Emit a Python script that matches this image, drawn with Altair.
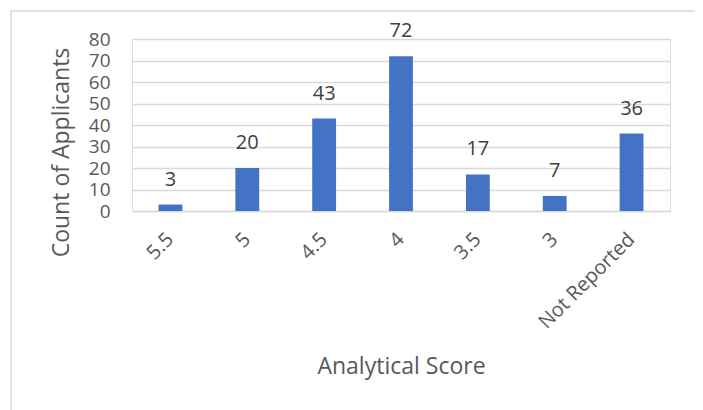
import altair as alt
import pandas as pd

scores = ["5.5", "5", "4.5", "4", "3.5", "3", "Not Reported"]
counts = [3, 20, 43, 72, 17, 7, 36]
y_ticks = [0, 10, 20, 30, 40, 50, 60, 70, 80]

df = pd.DataFrame({"score": scores, "count": counts})

FONT = "Open Sans"
GRAY = "#595959"

x_enc = alt.X(
    "score:N",
    sort=scores,
    scale=alt.Scale(paddingInner=0.69, paddingOuter=0.345),
    axis=alt.Axis(
        title="Analytical Score",
        labelAngle=-45,
        labelAlign="right",
        labelBaseline="middle",
        labelPadding=25,
        ticks=False,
        grid=False,
        domainColor="#d9d9d9",
        domainWidth=1.5,
        labelFontSize=20,
        labelColor=GRAY,
        labelFont=FONT,
        titleFont=FONT,
        titleFontSize=23,
        titleColor=GRAY,
        titleFontWeight="normal",
        titleY=162,
        titleBaseline="alphabetic",
    ),
)
y_enc = alt.Y(
    "count:Q",
    scale=alt.Scale(domain=[0, 80]),
    axis=alt.Axis(
        title="Count of Applicants",
        values=y_ticks,
        ticks=False,
        domain=False,
        gridColor="#d9d9d9",
        gridWidth=1.5,
        labelFontSize=19,
        labelColor=GRAY,
        labelFont=FONT,
        labelPadding=22,
        titleFont=FONT,
        titleFontSize=23,
        titleColor=GRAY,
        titleFontWeight="normal",
        titleX=-64,
        titleY=113,
        titleBaseline="alphabetic",
    ),
)

base = alt.Chart(df).encode(x=x_enc, y=y_enc)
bars = base.mark_bar(color="#4472C4")
labels = base.mark_text(dy=-19, baseline="alphabetic", fontSize=20, color="#404040", font=FONT).encode(
    text="count:Q"
)

border = alt.Chart(pd.DataFrame({"a": [0]})).mark_rect(
    fill=None, stroke="#d9d9d9", strokeWidth=1.5
).encode(
    x=alt.value(-121), x2=alt.value(567), y=alt.value(-28), y2=alt.value(390)
)

chart = alt.layer(border, bars, labels).properties(
    width=538,
    height=172,
    autosize=alt.AutoSizeParams(type="none"),
    padding={"left": 124, "top": 31, "right": 25, "bottom": 199},
).configure_view(stroke=None).configure(font=FONT)

chart.save("out.html", embed_options={"renderer": "svg", "actions": False})
